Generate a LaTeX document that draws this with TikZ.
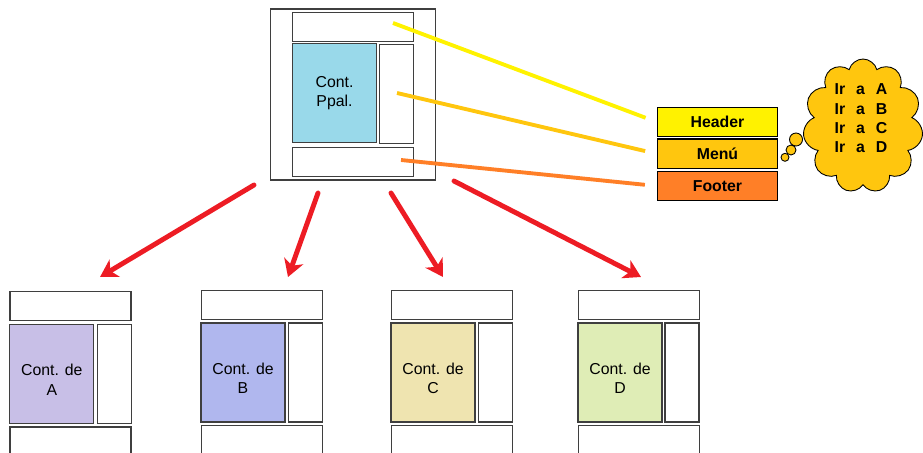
\documentclass[tikz,border=0pt]{standalone}
\usepackage{fontspec}
\setmainfont{Liberation Sans}
\usetikzlibrary{arrows.meta,shapes.symbols}

\definecolor{paintred}{HTML}{ED1C24}
\definecolor{turq}{HTML}{99D9EA}
\definecolor{lav}{HTML}{C8BFE7}
\definecolor{peri}{HTML}{B0B7EE}
\definecolor{sand}{HTML}{EFE4B0}
\definecolor{pale}{HTML}{DFEDB6}
\definecolor{yel}{HTML}{FFF200}
\definecolor{gold}{HTML}{FFC60E}
\definecolor{orng}{HTML}{FF7F27}
\definecolor{edge}{HTML}{3F3F3F}

\begin{document}
\begin{tikzpicture}[x=0.02cm, y=-0.02cm, >=Stealth, font=\fontsize{9}{11}\selectfont]
        \tikzstyle{frame}=[draw=edge, line width=0.7pt, shape=rectangle, inner sep=0pt]
        \tikzstyle{bar}=[frame, minimum width=2.42cm, minimum height=0.58cm]
        \tikzstyle{cont}=[frame, minimum width=1.68cm, minimum height=1.98cm, align=center]
        \tikzstyle{side}=[frame, minimum width=0.68cm, minimum height=1.98cm]
        \tikzstyle{part}=[draw, line width=0.8pt, inner sep=0pt, minimum width=2.4cm, minimum height=0.59cm, font=\fontsize{9}{11}\selectfont\bfseries]
        \tikzstyle{bubble}=[draw, shape=circle, fill=gold, line width=0.5pt, inner sep=0pt]
        \tikzstyle{link}=[line width=2.2pt, shorten >=0.24cm]
        \tikzstyle{jump}=[-{Stealth[length=0.34cm, width=0.4cm, inset=0.1cm]}, line width=2.8pt, line cap=round, paintred]
        \tikzstyle{txt}=[align=center, yshift=-0.12cm]

        \useasboundingbox (0,0) rectangle (923,453);

        % main page
        \node[frame, minimum width=3.3cm, minimum height=3.42cm](page) at (353.2,94.5){};
        \node[bar](hd) at (353.2,26.8){};
        \node[cont, fill=turq](main) at (334.5,93.3){Cont.\\Ppal.};
        \node[side](menu) at (396.8,94.3){};
        \node[bar](ft) at (353.2,162.2){};

        % parts
        \node[part, fill=yel](hdR) at (717.5,122){Header};
        \node[part, fill=gold](menuR) at (717.5,153.8){Menú};
        \node[part, fill=orng](ftR) at (717.5,186){Footer};

        \coordinate (hdP) at (393,23);
        \coordinate (menuP) at (397,93);
        \coordinate (ftP) at (401,160);
        \draw[link, yel] (hdP) -- (hdR.west);
        \draw[link, gold] (menuP) -- (menuR.west);
        \draw[link, orng] (ftP) -- (ftR.west);

        % thought
        \node[cloud, cloud puffs=11, draw, fill=gold, line width=0.5pt, minimum width=2.4cm, minimum height=2.68cm](think) at (863,126){};
        \node[font=\fontsize{9}{11}\selectfont\bfseries](links) at (861,120){%
          \begin{tabular}{@{}l@{\hspace{0.22cm}}l@{\hspace{0.22cm}}l@{}}
          Ir & a & A\\ Ir & a & B\\ Ir & a & C\\ Ir & a & D
          \end{tabular}};
        \node[bubble, minimum size=0.16cm](bub1) at (785,157.3){};
        \node[bubble, minimum size=0.2cm](bub2) at (791,150){};
        \node[bubble, minimum size=0.26cm](bub3) at (796,139.5){};

        % page A
        \node[bar](hdA) at (70.5,306.2){};
        \node[cont, fill=lav, label={[txt]center:Cont. de\\A}](cA) at (51.8,373.8){};
        \node[side](menuA) at (114.2,373.8){};
        \node[bar](ftA) at (70.5,441.5){};

        % page B
        \node[bar](hdB) at (261.7,304.7){};
        \node[cont, fill=peri, label={[txt]center:Cont. de\\B}](cB) at (243,372.5){};
        \node[side](menuB) at (305.3,372.5){};
        \node[bar](ftB) at (261.7,440.2){};

        % page C
        \node[bar](hdC) at (451.7,304.7){};
        \node[cont, fill=sand, label={[txt]center:Cont. de\\C}](cC) at (433,372.5){};
        \node[side](menuC) at (495.3,372.5){};
        \node[bar](ftC) at (451.7,440.2){};

        % page D
        \node[bar](hdD) at (638.7,304.7){};
        \node[cont, fill=pale, label={[txt]center:Cont. de\\D}](cD) at (620,372.5){};
        \node[side](menuD) at (682,372.5){};
        \node[bar](ftD) at (638.7,440.2){};

        % arrows
        \coordinate (s1) at (254,185);
        \coordinate (s2) at (318,193);
        \coordinate (s3) at (391,193);
        \coordinate (s4) at (454,181);
        \coordinate (t1) at (100,277);
        \coordinate (t2) at (288,277);
        \coordinate (t3) at (443,277);
        \coordinate (t4) at (641,277);
        \draw[jump] (s1) -- (t1);
        \draw[jump] (s2) -- (t2);
        \draw[jump] (s3) -- (t3);
        \draw[jump] (s4) -- (t4);

\end{tikzpicture}
\end{document}
